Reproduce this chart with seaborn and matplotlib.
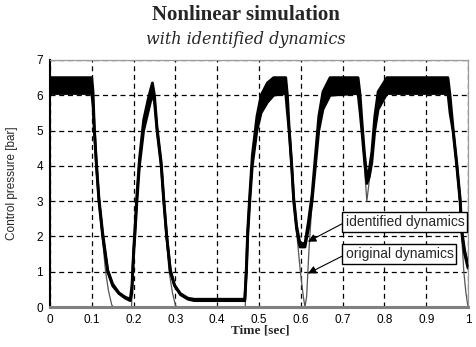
import matplotlib
matplotlib.use("Agg")
import matplotlib.pyplot as plt
import seaborn as sns
import numpy as np
import pandas as pd

# ---- data ----
orig_t = [0.000, 0.100, 0.103, 0.106, 0.111, 0.117, 0.125, 0.133, 0.140, 0.148, 0.152,
          0.195, 0.198, 0.203, 0.208, 0.214, 0.224, 0.236, 0.245, 0.250, 0.256, 0.266,
          0.272, 0.278, 0.285, 0.293, 0.300, 0.304, 0.467, 0.470, 0.473, 0.478, 0.484,
          0.495, 0.510, 0.530, 0.564, 0.568, 0.572, 0.578, 0.584, 0.591, 0.599, 0.606,
          0.610, 0.614, 0.619, 0.627, 0.635, 0.643, 0.653, 0.670, 0.737, 0.742, 0.746,
          0.752, 0.758, 0.763, 0.770, 0.777, 0.785, 0.806, 0.952, 0.957, 0.964, 0.973,
          0.980, 0.985, 0.990, 0.995, 1.000]
orig_p = [6.3, 6.3, 5.9, 5.0, 4.0, 3.0, 2.0, 1.0, 0.45, 0.05, 0.0,
          0.0, 1.0, 2.0, 3.0, 4.0, 5.0, 5.8, 6.3, 5.9, 5.0, 4.0,
          3.0, 2.0, 1.0, 0.4, 0.05, 0.0, 0.0, 1.0, 2.0, 3.0, 4.0,
          5.0, 5.9, 6.3, 6.3, 5.8, 5.0, 4.0, 3.0, 2.0, 1.0, 0.3,
          0.0, 0.3, 1.5, 3.0, 4.0, 5.0, 6.0, 6.3, 6.3, 5.8, 5.2,
          4.0, 3.0, 3.5, 4.1, 5.0, 6.0, 6.3, 6.3, 5.8, 5.0, 4.0,
          3.0, 2.0, 1.0, 0.4, 0.0]

ident_t = [0.000, 0.100, 0.103, 0.106, 0.111, 0.117, 0.126, 0.138, 0.150, 0.165, 0.180,
           0.192, 0.196, 0.200, 0.203, 0.208, 0.214, 0.224, 0.236, 0.245, 0.250, 0.256,
           0.266, 0.272, 0.279, 0.288, 0.298, 0.312, 0.330, 0.345, 0.466, 0.470, 0.473,
           0.478, 0.484, 0.495, 0.505, 0.520, 0.535, 0.564, 0.568, 0.572, 0.578, 0.583,
           0.590, 0.598, 0.610, 0.618, 0.627, 0.635, 0.643, 0.653, 0.670, 0.737, 0.742,
           0.746, 0.752, 0.758, 0.764, 0.770, 0.777, 0.785, 0.806, 0.952, 0.957, 0.964,
           0.973, 0.981, 0.986, 0.992, 1.000]
ident_lo = [6.05, 6.05, 5.7, 5.0, 4.0, 3.0, 2.0, 1.0, 0.6, 0.38, 0.25,
            0.18, 0.4, 1.5, 2.0, 3.0, 4.0, 5.0, 5.6, 6.05, 5.8, 5.0,
            4.0, 3.0, 2.0, 1.0, 0.6, 0.35, 0.22, 0.18, 0.18, 1.0, 2.0,
            3.0, 4.0, 5.0, 5.5, 5.8, 6.0, 6.05, 5.5, 5.0, 4.0, 3.0,
            2.2, 1.7, 1.7, 2.2, 3.0, 4.0, 5.0, 5.6, 6.0, 6.05, 5.5,
            5.0, 4.2, 3.5, 3.7, 4.1, 5.0, 5.6, 6.05, 6.05, 5.5, 5.0,
            4.0, 3.0, 2.0, 1.5, 1.1]
ident_hi = [6.50, 6.50, 6.1, 5.1, 4.1, 3.1, 2.1, 1.05, 0.65, 0.4, 0.28,
            0.22, 0.6, 1.6, 2.2, 3.2, 4.2, 5.3, 5.95, 6.35, 6.0, 5.1,
            4.1, 3.1, 2.05, 1.05, 0.62, 0.38, 0.25, 0.22, 0.22, 1.2, 2.2,
            3.2, 4.3, 5.4, 6.0, 6.35, 6.5, 6.5, 6.0, 5.1, 4.1, 3.1,
            2.3, 1.8, 1.8, 2.4, 3.2, 4.3, 5.4, 6.1, 6.5, 6.5, 6.0,
            5.3, 4.4, 3.7, 3.9, 4.4, 5.4, 6.1, 6.5, 6.5, 6.0, 5.1,
            4.1, 3.1, 2.1, 1.6, 1.2]

x_ticks = [0, 0.1, 0.2, 0.3, 0.4, 0.5, 0.6, 0.7, 0.8, 0.9, 1.0]
x_tick_labels = ["0", "0.1", "0.2", "0.3", "0.4", "0.5", "0.6", "0.7", "0.8", "0.9", "1"]
y_ticks = [0, 1, 2, 3, 4, 5, 6, 7]

sns.set_style("white")
plt.rcParams["font.family"] = ["Liberation Sans", "DejaVu Sans"]

fig = plt.figure(figsize=(4.76, 3.47), dpi=100)
ax = fig.add_axes([50 / 476, 1 - 307 / 347, 418 / 476, 247 / 347])

df_orig = pd.DataFrame({"t": orig_t, "p": orig_p})
df_lo = pd.DataFrame({"t": ident_t, "p": ident_lo})
df_hi = pd.DataFrame({"t": ident_t, "p": ident_hi})

sns.lineplot(data=df_orig, x="t", y="p", ax=ax, color="#555555", lw=0.9, sort=False,
             estimator=None, zorder=2)
ax.fill_between(ident_t, ident_lo, ident_hi, color="black", lw=0, zorder=3)
sns.lineplot(data=df_lo, x="t", y="p", ax=ax, color="black", lw=2.0, sort=False,
             estimator=None, zorder=3)
sns.lineplot(data=df_hi, x="t", y="p", ax=ax, color="black", lw=2.0, sort=False,
             estimator=None, zorder=3)

ax.set_xlim(0, 1)
ax.set_ylim(0, 7)
ax.set_xticks(x_ticks)
ax.set_xticklabels(x_tick_labels)
ax.set_yticks(y_ticks)
ax.tick_params(axis="both", labelsize=8.5, length=3, width=0.8, direction="out",
               pad=2, colors="black")
ax.grid(True, color="black", lw=0.9, ls=(0, (4, 3)))
ax.set_axisbelow(True)

ax.spines["left"].set_color("black")
ax.spines["left"].set_linewidth(1.5)
ax.spines["bottom"].set_color("#808080")
ax.spines["bottom"].set_linewidth(2.2)
for s in ("top", "right"):
    ax.spines[s].set_color("#9a9a9a")
    ax.spines[s].set_linewidth(0.9)

ax.set_xlabel("Time [sec]", family="Liberation Serif", fontweight="bold", fontsize=9.5)
ax.set_ylabel("Control pressure [bar]", family="Liberation Sans", fontsize=8.5)
ax.xaxis.set_label_coords(0.502, -0.072)
ax.yaxis.set_label_coords(-0.077, 0.5)

fig.text(0.517, 0.958, "Nonlinear simulation", family="Liberation Serif",
         fontweight="bold", fontsize=15, ha="center", va="center")
fig.text(0.517, 0.885, "with identified dynamics", family="DejaVu Serif",
         style="italic", fontsize=11.5, ha="center", va="center")

box = dict(boxstyle="square,pad=0.22", fc="white", ec="black", lw=1.0)
ax.annotate("identified dynamics", xy=(0.617, 1.85), xytext=(0.707, 2.41),
            ha="left", va="center", fontsize=10, bbox=box, zorder=6,
            arrowprops=dict(arrowstyle="-|>", color="black", lw=0.8,
                            mutation_scale=12, shrinkA=0, shrinkB=0,
                            relpos=(0, 0.5)))
ax.annotate("original dynamics", xy=(0.617, 0.95), xytext=(0.707, 1.49),
            ha="left", va="center", fontsize=10, bbox=box, zorder=6,
            arrowprops=dict(arrowstyle="-|>", color="black", lw=0.8,
                            mutation_scale=12, shrinkA=0, shrinkB=0,
                            relpos=(0, 0.5)))

fig.savefig("out.png", dpi=100)
